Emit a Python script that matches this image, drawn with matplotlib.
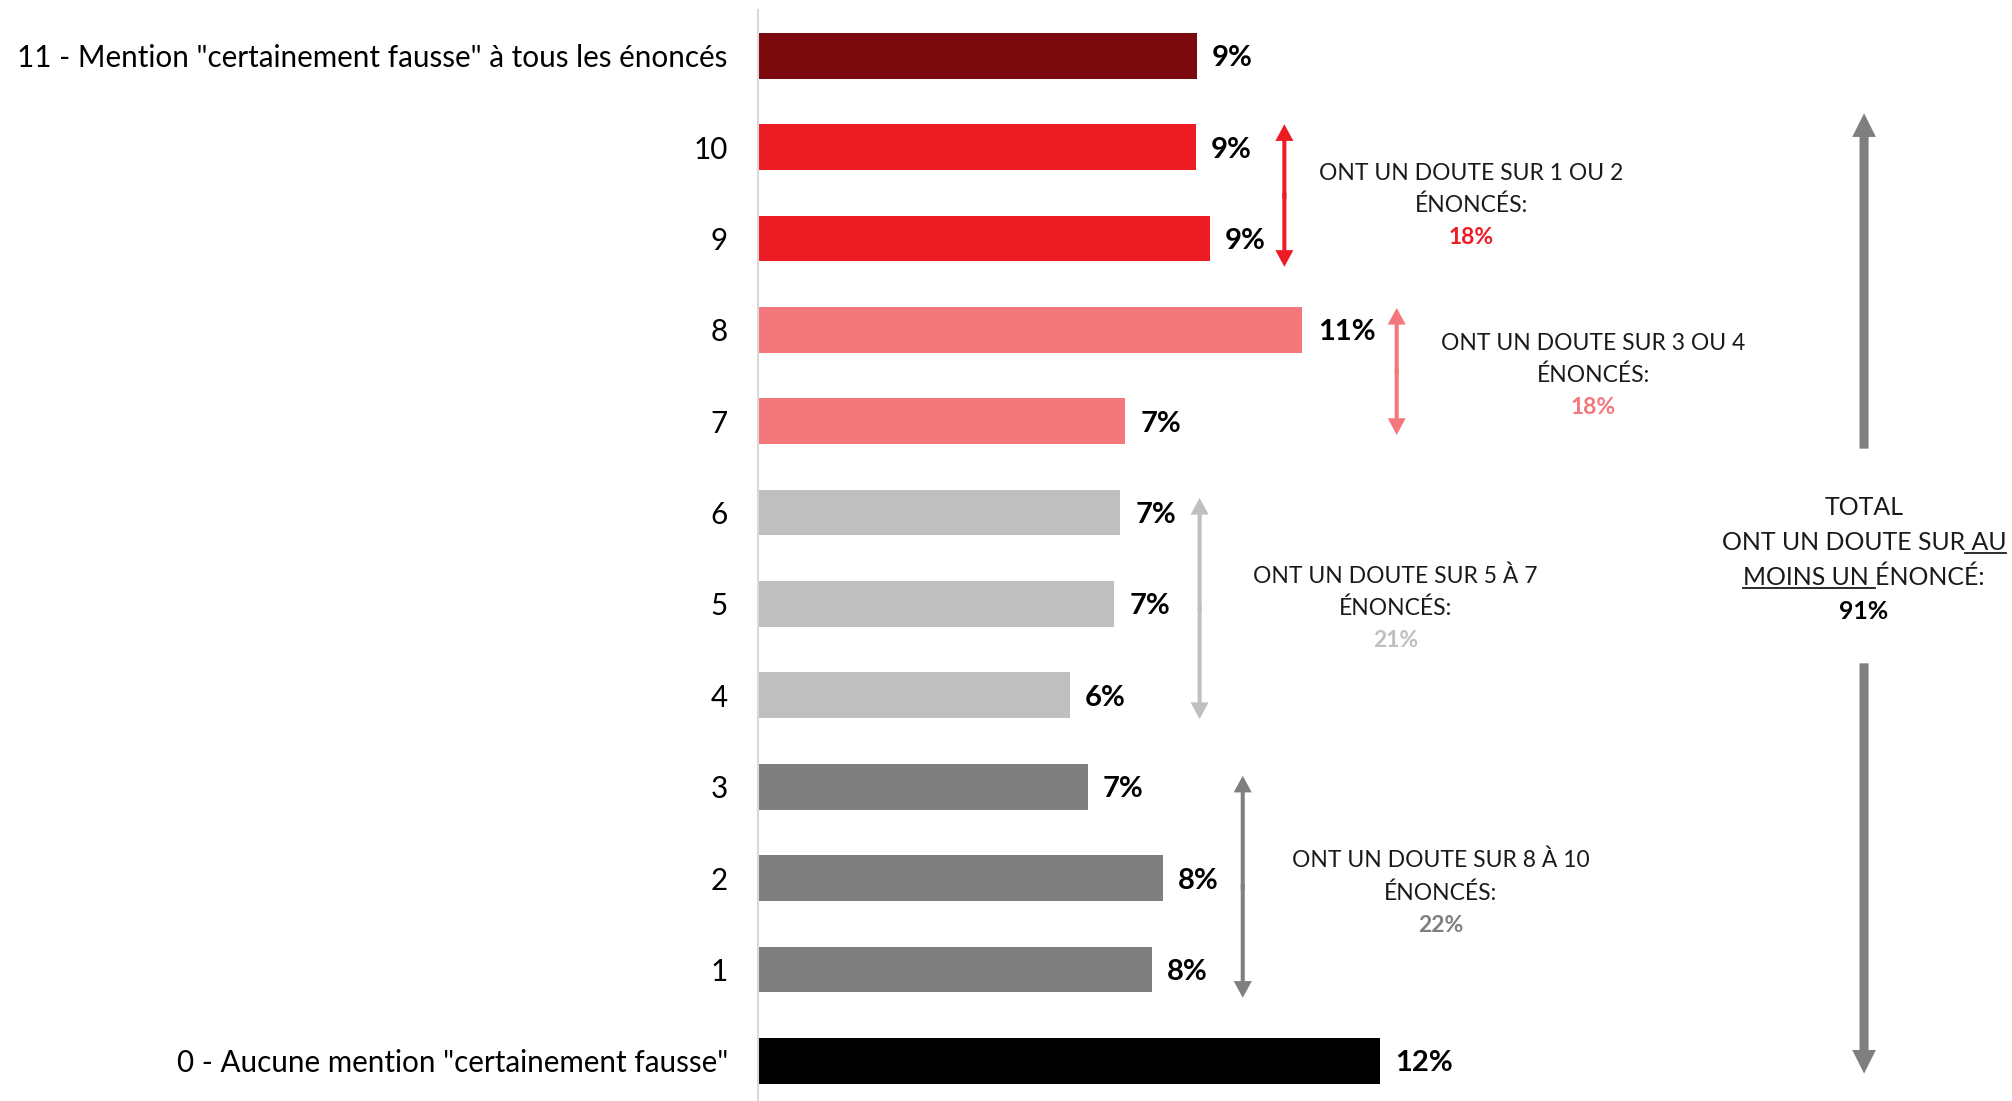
import numpy as np
import matplotlib
matplotlib.use("Agg")
import matplotlib.pyplot as plt
from matplotlib.patches import FancyArrowPatch
from matplotlib.lines import Line2D
from matplotlib.font_manager import FontProperties

plt.rcParams['font.family'] = ['Lato', 'DejaVu Sans']

# Number of statements marked "certainement fausse" (bottom to top)
categories = [
    '0 - Aucune mention "certainement fausse"',
    '1', '2', '3', '4', '5', '6', '7', '8', '9', '10',
    '11 - Mention "certainement fausse" à tous les énoncés',
]
shares = [12.4, 7.85, 8.06, 6.57, 6.21, 7.09, 7.21, 7.31, 10.85, 9.0, 8.72, 8.74]

group_heads = [
    ["ONT UN DOUTE SUR 1 OU 2", "ÉNONCÉS:"],
    ["ONT UN DOUTE SUR 3 OU 4", "ÉNONCÉS:"],
    ["ONT UN DOUTE SUR 5 À 7", "ÉNONCÉS:"],
    ["ONT UN DOUTE SUR 8 À 10", "ÉNONCÉS:"],
]
group_totals = ["18%", "18%", "21%", "22%"]
overall_total = "91%"

bar_colors = ['#000000'] + ['#7F7F7F'] * 3 + ['#BFBFBF'] * 3 + \
             ['#F4777B'] * 2 + ['#ED1C24'] * 2 + ['#7B0A0E']
group_colors = ['#ED1C24', '#F4777B', '#BFBFBF', '#7F7F7F']

fig = plt.figure(figsize=(20.12, 11.01), dpi=100)
ax = fig.add_axes([0.3769, 0.0, 0.6231, 1.0])

ypos = np.arange(len(categories))
bars = ax.barh(ypos, shares, height=0.5, color=bar_colors)
value_labels = ax.bar_label(bars, labels=[f"{v:.0f}%" for v in shares], padding=11,
                            fontsize=21, fontweight='bold', color='black')
for t in value_labels:
    t.set_va('center_baseline')

ax.set_xlim(0, 25)
ax.set_ylim(-0.44, 11.61)
ax.set_xticks([])
ax.set_yticks(ypos, categories, fontsize=21.3)
ax.tick_params(axis='y', length=0, pad=22)
for side in ['top', 'right', 'bottom']:
    ax.spines[side].set_visible(False)
ax.spines['left'].set_color('#D9D9D9')
ax.spines['left'].set_linewidth(1.5)
ax.spines['left'].set_bounds(-0.44, 11.5)


def arrow_half(x, y_from, y_to, color, head_len, head_w, tail_w):
    ax.add_patch(FancyArrowPatch(
        (x, y_from), (x, y_to),
        arrowstyle=f"simple,head_length={head_len},head_width={head_w},tail_width={tail_w}",
        mutation_scale=1, color=color, lw=0, shrinkA=0, shrinkB=0))


def double_arrow(x, y_top, y_bottom, color):
    mid = 0.5 * (y_top + y_bottom)
    arrow_half(x, mid - 0.03, y_top, color, 12, 13, 2.9)
    arrow_half(x, mid + 0.03, y_bottom, color, 12, 13, 2.9)


# Group brackets: x, top, bottom, text centre x, text line y positions
groups = [
    (10.49, 10.25, 8.69, 14.22, [9.71, 9.36, 9.01]),
    (12.73, 8.24, 6.85, 16.65, [7.85, 7.50, 7.15]),
    (8.80, 6.16, 3.74, 12.71, [5.30, 4.95, 4.60]),
    (9.66, 3.12, 0.69, 13.61, [2.19, 1.83, 1.48]),
]
for (xa, yt, yb, xt, ys), heads, tot, col in zip(groups, group_heads, group_totals, group_colors):
    double_arrow(xa, yt, yb, col)
    for line, yy in zip(heads, ys[:2]):
        ax.text(xt, yy, line, ha='center', va='center', fontsize=16.5, color='#1A1A1A')
    ax.text(xt, ys[2], tot, ha='center', va='center', fontsize=16.5,
            fontweight='bold', color=col)

# Overall bracket
xb = 22.05
arrow_half(xb, 6.70, 10.37, '#7F7F7F', 17, 17, 6.5)
arrow_half(xb, 4.35, -0.14, '#7F7F7F', 17, 17, 6.5)

total_fs = 17.9
total_lines = ["TOTAL", "ONT UN DOUTE SUR AU", "MOINS UN ÉNONCÉ:"]
total_y = [6.06, 5.67, 5.29]
total_texts = []
for line, yy in zip(total_lines, total_y):
    total_texts.append(ax.text(xb, yy, line, ha='center', va='center',
                               fontsize=total_fs, color='#1A1A1A'))
ax.text(xb, 4.92, overall_total, ha='center', va='center', fontsize=total_fs,
        fontweight='bold', color='black')

# Underline "AU" and "MOINS UN " in the total caption
fig.canvas.draw()
renderer = fig.canvas.get_renderer()
fp = FontProperties(family=['Lato', 'DejaVu Sans'], size=total_fs)


def text_w(s):
    return renderer.get_text_width_height_descent(s, fp, ismath=False)[0]


em = total_fs * fig.dpi / 72.0
inv = fig.transFigure.inverted()
descent = renderer.get_text_width_height_descent("lp", fp, ismath=False)[2]

bb2 = total_texts[1].get_window_extent(renderer)
u2_start = bb2.x1 - (text_w("ONT UN DOUTE SUR AU") - text_w("ONT UN DOUTE SUR"))
yl2 = bb2.y0 + descent - 0.11 * em
bb3 = total_texts[2].get_window_extent(renderer)
u3_end = bb3.x0 + (text_w("MOINS UN ÉNONCÉ:") - text_w("ÉNONCÉ:"))
yl3 = bb3.y0 + descent - 0.11 * em

for (xa_, xb_, yl) in [(u2_start, bb2.x1, yl2), (bb3.x0, u3_end, yl3)]:
    p0 = inv.transform((xa_, yl))
    p1 = inv.transform((xb_, yl))
    fig.add_artist(Line2D([p0[0], p1[0]], [p0[1], p1[1]], transform=fig.transFigure,
                          color='#1A1A1A', lw=1.3))

fig.savefig("out.png", dpi=100, facecolor='white')
